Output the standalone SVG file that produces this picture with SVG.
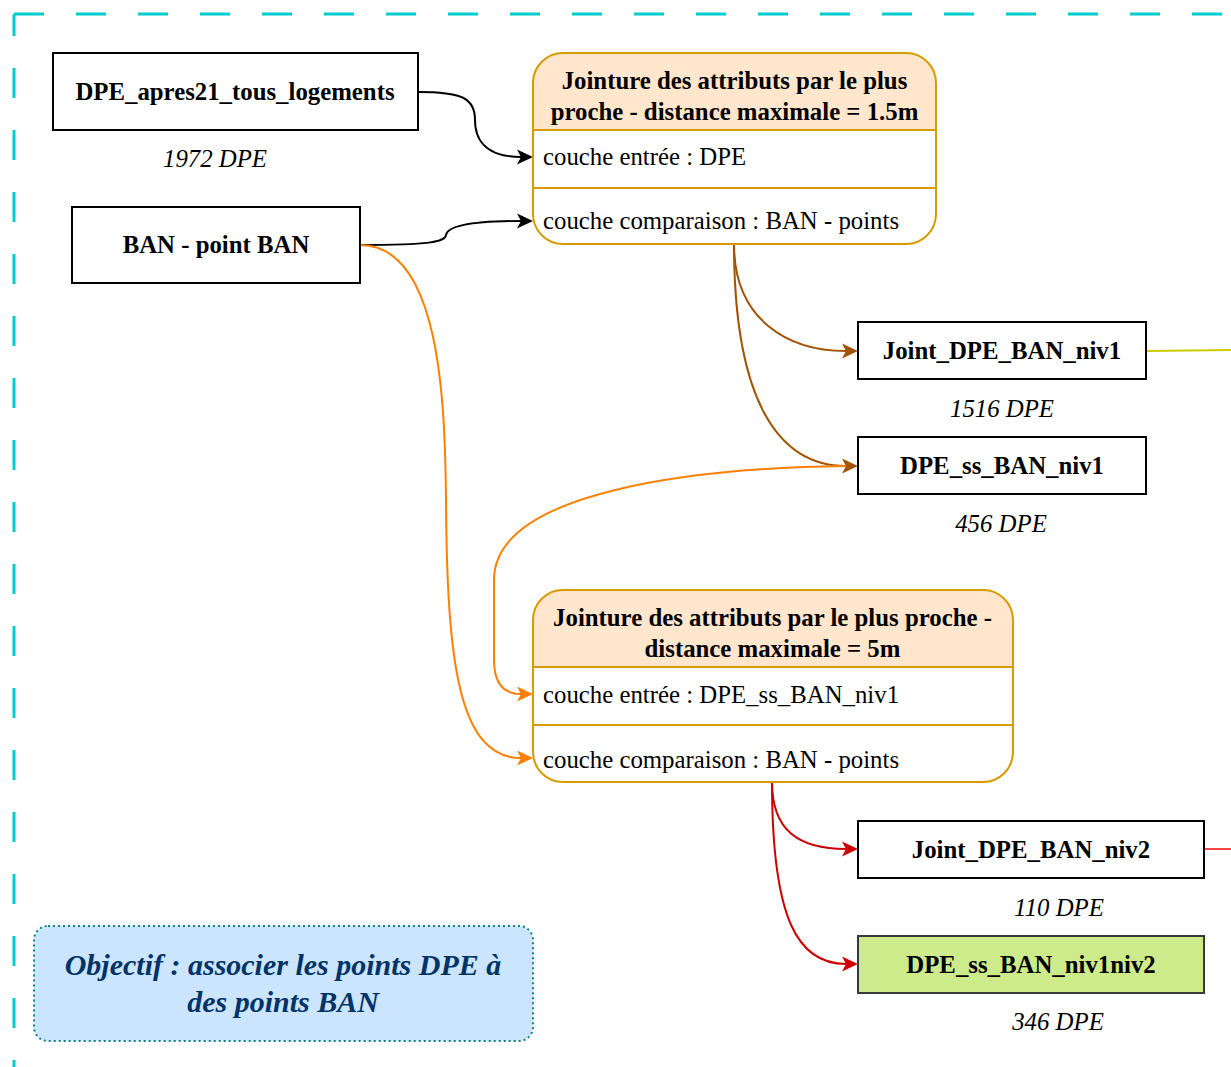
<svg xmlns="http://www.w3.org/2000/svg" xmlns:xlink="http://www.w3.org/1999/xlink" width="1231" height="1067" viewBox="0 0 1231 1067">
<style>
  .box{fill:#ffffff;stroke:#000000;stroke-width:2}
  .name{font-family:"Liberation Serif","Times New Roman",serif;font-weight:bold;font-size:24.8px;fill:#000;text-anchor:middle}
  .count{font-family:"Liberation Serif","Times New Roman",serif;font-style:italic;font-size:24.8px;fill:#000;text-anchor:middle}
  .row{font-family:"Liberation Serif","Times New Roman",serif;font-size:24.8px;fill:#000}
  .join{fill:none;stroke:#d79b00;stroke-width:2}
  .sep{stroke:#d79b00;stroke-width:2}
  .edge{fill:none;stroke-width:2}
  .border{stroke:#00cccc;stroke-width:3;stroke-dasharray:30 32;fill:none}
  .obj{font-family:"Liberation Serif","Times New Roman",serif;font-weight:bold;font-style:italic;font-size:30px;fill:#003366;text-anchor:middle}
</style>
<defs>
  <path id="ah" d="M-16,-7.5 L0,0 L-16,7.5 L-12,0 Z"/>
  <clipPath id="clipTop"><rect x="533" y="53" width="403" height="77"/></clipPath>
  <clipPath id="clipTop2"><rect x="533" y="590" width="480" height="77"/></clipPath>
</defs>

<g id="frame">
  <line class="border" x1="14" y1="14" x2="1231" y2="14"/>
  <line class="border" x1="14" y1="14" x2="14" y2="1067" stroke-dashoffset="8"/>
</g>

<g id="connectors">
  <path class="edge" stroke="#000" d="M418,92 C462,92 475,98 475,120 C475,145 492,157 521,157"/>
  <use xlink:href="#ah" href="#ah" x="533" y="157" fill="#000"/>
  <path class="edge" stroke="#000" d="M360,245 C430,245 445,242 446,235 C448,225 475,221 521,221"/>
  <use xlink:href="#ah" href="#ah" x="533" y="221" fill="#000"/>
  <path class="edge" stroke="#ff8000" d="M360,245 C440,245 445,400 446,500 C447,660 458,758 521,758"/>
  <use xlink:href="#ah" href="#ah" x="533" y="758" fill="#ff8000"/>
  <path class="edge" stroke="#a35200" d="M734,244 C734,320 788,351 846,351"/>
  <use xlink:href="#ah" href="#ah" x="858" y="351" fill="#a35200"/>
  <path class="edge" stroke="#a35200" d="M734,244 C734,400 778,466 846,466"/>
  <use xlink:href="#ah" href="#ah" x="858" y="466" fill="#a35200"/>
  <path class="edge" stroke="#ff8000" d="M846,466 C700,468 494,490 494,580 L494,660 C494,685 505,694 521,694"/>
  <use xlink:href="#ah" href="#ah" x="533" y="694" fill="#ff8000"/>
  <path class="edge" stroke="#cc0000" d="M772,782 C772,830 798,849 846,849"/>
  <use xlink:href="#ah" href="#ah" x="858" y="849" fill="#cc0000"/>
  <path class="edge" stroke="#cc0000" d="M772,782 C772,920 798,964 846,964"/>
  <use xlink:href="#ah" href="#ah" x="858" y="964" fill="#cc0000"/>
  <path class="edge" stroke="#cccc00" d="M1146,351 L1231,350"/>
  <path class="edge" stroke="#ff4444" d="M1204,849 L1231,849"/>
</g>

<g id="node-dpe-apres21">
  <rect class="box" x="53" y="53" width="365" height="77"/>
  <text class="name" x="235" y="100">DPE_apres21_tous_logements</text>
  <text class="count" x="215" y="167">1972 DPE</text>
</g>

<g id="node-ban-point">
  <rect class="box" x="72" y="207" width="288" height="76"/>
  <text class="name" x="216" y="253">BAN - point BAN</text>
</g>

<g id="node-jointure1">
  <rect x="533" y="53" width="403" height="191" rx="30" ry="30" fill="#ffffff"/>
  <rect x="533" y="53" width="403" height="191" rx="30" ry="30" fill="#ffe6cc" clip-path="url(#clipTop)"/>
  <rect class="join" x="533" y="53" width="403" height="191" rx="30" ry="30"/>
  <line class="sep" x1="533" y1="130" x2="936" y2="130"/>
  <line class="sep" x1="533" y1="188" x2="936" y2="188"/>
  <text class="name" x="734.5" y="89">Jointure des attributs par le plus</text>
  <text class="name" x="734.5" y="120">proche - distance maximale = 1.5m</text>
  <text class="row" x="543" y="165">couche entrée : DPE</text>
  <text class="row" x="543" y="229">couche comparaison : BAN - points</text>
</g>

<g id="node-joint-niv1">
  <rect class="box" x="858" y="322" width="288" height="57"/>
  <text class="name" x="1002" y="359">Joint_DPE_BAN_niv1</text>
  <text class="count" x="1002" y="417">1516 DPE</text>
</g>

<g id="node-ss-ban-niv1">
  <rect class="box" x="858" y="437" width="288" height="57"/>
  <text class="name" x="1002" y="474">DPE_ss_BAN_niv1</text>
  <text class="count" x="1001" y="532">456 DPE</text>
</g>

<g id="node-jointure2">
  <rect x="533" y="590" width="480" height="192" rx="30" ry="30" fill="#ffffff"/>
  <rect x="533" y="590" width="480" height="192" rx="30" ry="30" fill="#ffe6cc" clip-path="url(#clipTop2)"/>
  <rect class="join" x="533" y="590" width="480" height="192" rx="30" ry="30"/>
  <line class="sep" x1="533" y1="667" x2="1013" y2="667"/>
  <line class="sep" x1="533" y1="725" x2="1013" y2="725"/>
  <text class="name" x="772.5" y="626">Jointure des attributs par le plus proche -</text>
  <text class="name" x="772.5" y="657">distance maximale = 5m</text>
  <text class="row" x="543" y="703">couche entrée : DPE_ss_BAN_niv1</text>
  <text class="row" x="543" y="768">couche comparaison : BAN - points</text>
</g>

<g id="node-joint-niv2">
  <rect class="box" x="858" y="821" width="346" height="57"/>
  <text class="name" x="1031" y="858">Joint_DPE_BAN_niv2</text>
  <text class="count" x="1059" y="916">110 DPE</text>
</g>

<g id="node-ss-ban-niv1niv2">
  <rect x="858" y="936" width="346" height="57" fill="#cdeb8b" stroke="#36393d" stroke-width="2"/>
  <text class="name" x="1031" y="973">DPE_ss_BAN_niv1niv2</text>
  <text class="count" x="1058" y="1030">346 DPE</text>
</g>

<g id="node-objectif">
  <rect x="34" y="926" width="499" height="115" rx="14" ry="14" fill="#cce5ff" stroke="#0e8088" stroke-width="2" stroke-dasharray="2 3"/>
  <text class="obj" x="283" y="975">Objectif : associer les points DPE à</text>
  <text class="obj" x="283" y="1012">des points BAN</text>
</g>
</svg>
